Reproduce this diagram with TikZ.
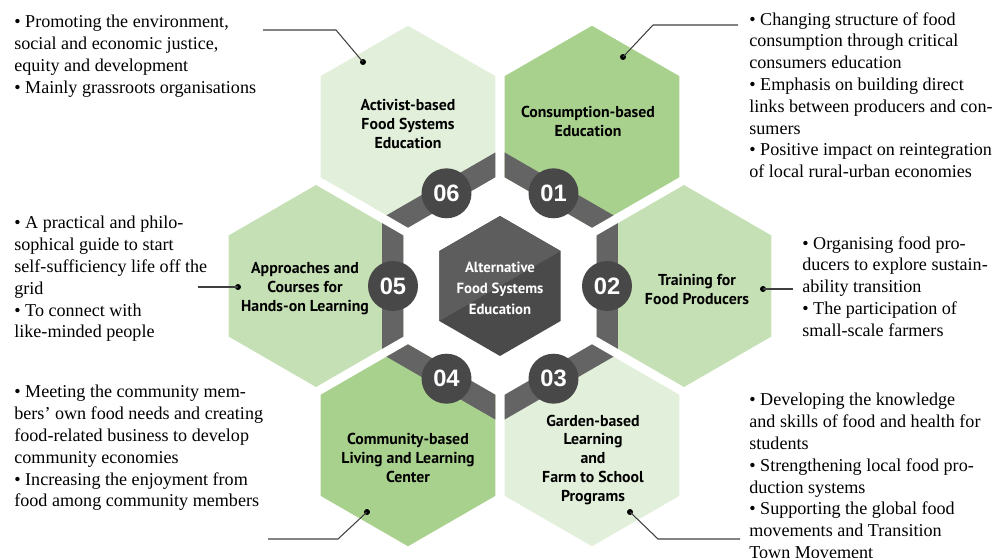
\documentclass[tikz,border=0pt]{standalone}
\usepackage{fontspec}
\setmainfont{Liberation Serif}
\setsansfont{PT Sans}
\newfontfamily\numfont{Liberation Sans}
\usetikzlibrary{shapes.geometric}

\definecolor{greenlight}{HTML}{E2EFDA}
\definecolor{greenmid}{HTML}{C5E0B4}
\definecolor{greendark}{HTML}{A9D18E}
\definecolor{bandgray}{HTML}{646464}
\definecolor{badgegray}{HTML}{484848}
\definecolor{hublight}{HTML}{5D5D5D}
\definecolor{hubdark}{HTML}{4A4A4A}

\tikzset{
  hexcell/.style={regular polygon, regular polygon sides=6, shape border rotate=30,
    minimum size=4.04cm, inner sep=0pt, outer sep=0pt},
  hexframe/.style={hexcell, minimum size=5.45cm},
  hexhub/.style={hexcell, minimum size=2.8cm},
  badge/.style={circle, fill=badgegray, minimum size=1cm, inner sep=0pt, text=white,
    font=\numfont\bfseries\fontsize{13.5}{14}\selectfont},
  celltext/.style={align=center, inner sep=0pt,
    font=\sffamily\bfseries\fontsize{9}{10.8}\selectfont},
  hubtext/.style={align=center, inner sep=0pt, text=white,
    font=\sffamily\bfseries\fontsize{8.4}{12}\selectfont},
  note/.style={anchor=north west, align=left, inner sep=0pt,
    font=\fontsize{10.3}{12.4}\selectfont},
  leaddot/.style={circle, fill=black, minimum size=3.4pt, inner sep=0pt},
  leader/.style={black!75, line width=0.6pt},
}

\begin{document}
\begin{tikzpicture}[x=0.02cm, y=-0.02cm]
\useasboundingbox (0,0) rectangle (995,558);

% the six cells round the centre
\node[hexcell, fill=greendark]  (h01) at (592,126.7) {};
\node[hexcell, fill=greenmid]   (h02) at (684,286) {};
\node[hexcell, fill=greenlight] (h03) at (592,445.3) {};
\node[hexcell, fill=greendark]  (h04) at (408,445.3) {};
\node[hexcell, fill=greenmid]   (h05) at (316,286) {};
\node[hexcell, fill=greenlight] (h06) at (408,126.7) {};

% grey frame, only where it lies on a cell
\node[hexframe] (frame) at (500,286) {};
\foreach \h in {h01,h02,h03,h04,h05,h06}{
  \begin{scope}
    \clip (\h.corner 1) -- (\h.corner 2) -- (\h.corner 3) -- (\h.corner 4)
      -- (\h.corner 5) -- (\h.corner 6) -- cycle;
    \fill[bandgray] (frame.corner 1) -- (frame.corner 2) -- (frame.corner 3)
      -- (frame.corner 4) -- (frame.corner 5) -- (frame.corner 6) -- cycle;
  \end{scope}
}

% centre
\node[hexhub, fill=hubdark] (hub) at (500,286) {};
\fill[hublight] (hub.30) -- (hub.90) -- (hub.150) -- (hub.210) -- cycle;
\node[hubtext] (title) at (500,288) {Alternative\\Food Systems\\Education};

% numbers
\node[badge] (n01) at (553.5,193.3) {01};
\node[badge] (n02) at (607,286) {02};
\node[badge] (n03) at (553.5,378.7) {03};
\node[badge] (n04) at (446.5,378.7) {04};
\node[badge] (n05) at (393,286) {05};
\node[badge] (n06) at (446.5,193.3) {06};

% cell names
\node[celltext] (t01) at (588,121) {Consumption-based\\Education};
\node[celltext] (t02) at (697,289) {Training for\\Food Producers};
\node[celltext] (t03) at (593,460) {Garden-based\\Learning\\and\\Farm to School\\Programs};
\node[celltext] (t04) at (408,458) {Community-based\\Living and Learning\\Center};
\node[celltext] (t05) at (305,289) {Approaches and\\Courses for\\Hands-on Learning};
\node[celltext] (t06) at (408,124) {Activist-based\\Food Systems\\Education};

% leaders
\node[leaddot] (d01) at (623,57) {};
\coordinate (k01) at (653,25);
\coordinate (e01) at (738,25);
\draw[leader] (d01.center) -- (k01) -- (e01);

\node[leaddot] (d02) at (763,289) {};
\coordinate (e02) at (793,289);
\draw[leader] (d02.center) -- (e02);

\node[leaddot] (d03) at (630,512) {};
\coordinate (k03) at (658,539);
\coordinate (e03) at (740,539);
\draw[leader] (d03.center) -- (k03) -- (e03);

\node[leaddot] (d04) at (367,512) {};
\coordinate (k04) at (338,539);
\coordinate (e04) at (268,539);
\draw[leader] (d04.center) -- (k04) -- (e04);

\node[leaddot] (d05) at (238,287) {};
\coordinate (e05) at (198,287);
\draw[leader] (d05.center) -- (e05);

\node[leaddot] (d06) at (363,62) {};
\coordinate (k06) at (336,30);
\coordinate (e06) at (263,30);
\draw[leader] (d06.center) -- (k06) -- (e06);

% notes
\node[note] (b01) at (749,12) {• Changing structure of food\\consumption through critical\\consumers education\\• Emphasis on building direct\\links between producers and con-\\sumers\\• Positive impact on reintegration\\of local rural-urban economies};
\node[note] (b02) at (802,236) {• Organising food pro-\\ducers to explore sustain-\\ability transition\\• The participation of\\small-scale farmers};
\node[note] (b03) at (749,393) {• Developing the knowledge\\and skills of food and health for\\students\\• Strengthening local food pro-\\duction systems\\• Supporting the global food\\movements and Transition\\Town Movement};
\node[note] (b04) at (14,385) {• Meeting the community mem-\\bers' own food needs and creating\\food-related business to develop\\community economies\\• Increasing the enjoyment from\\food among community members};
\node[note] (b05) at (14,216) {• A practical and philo-\\sophical guide to start\\self-sufficiency life off the\\grid\\• To connect with\\like-minded people};
\node[note] (b06) at (14,15) {• Promoting the environment,\\social and economic justice,\\equity and development\\• Mainly grassroots organisations};
\end{tikzpicture}
\end{document}
